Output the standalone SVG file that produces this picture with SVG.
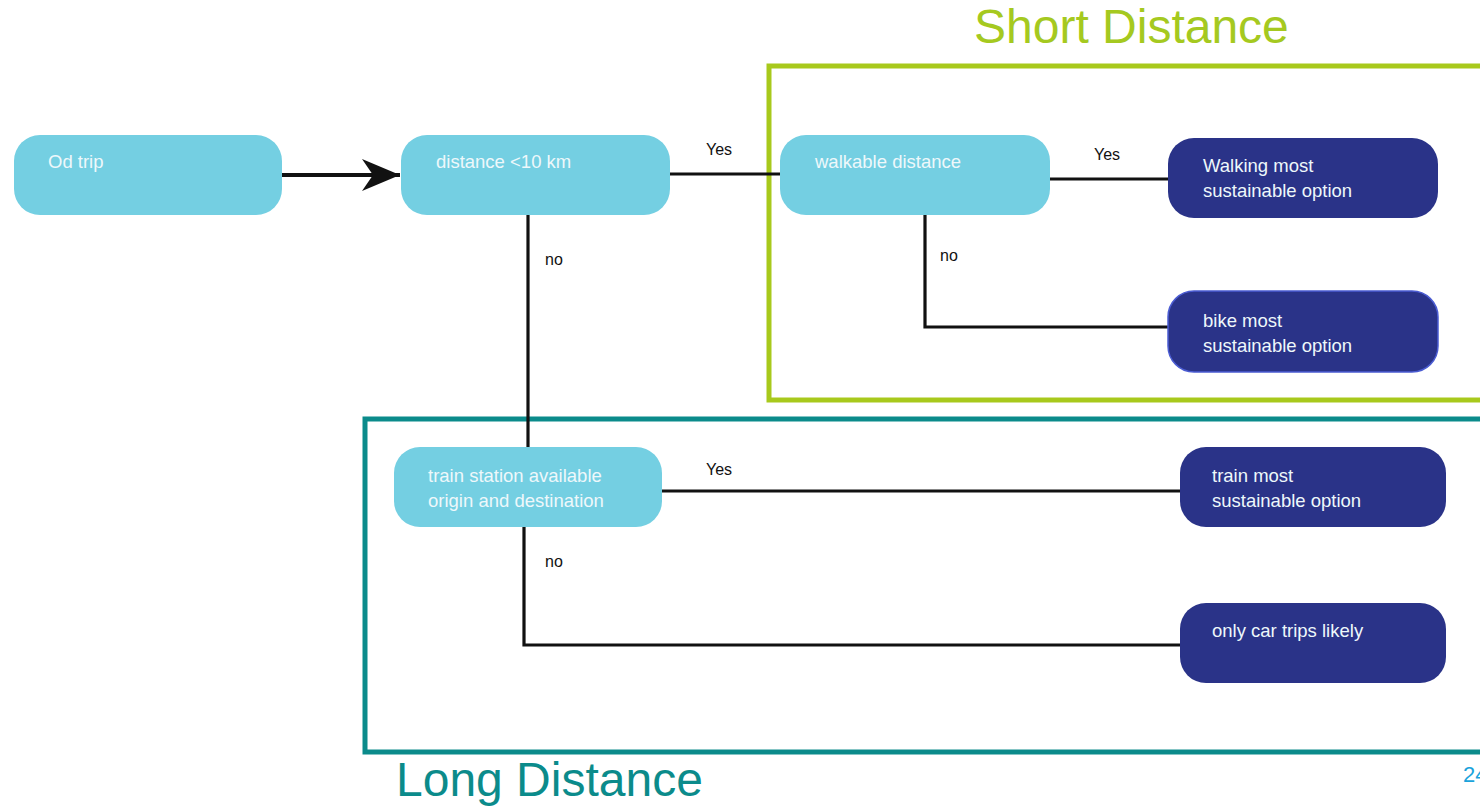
<svg xmlns="http://www.w3.org/2000/svg" width="1480" height="806" viewBox="0 0 1480 806">
<style>
.light{fill:#74CFE2;}
.dark{fill:#2A3388;}
.nt{font-family:"Liberation Sans",Arial,sans-serif;font-size:18.5px;fill:#EEF8FB;}
.lbl{font-family:"Liberation Sans",Arial,sans-serif;font-size:16px;fill:#111;}
.c{fill:none;stroke:#111;stroke-width:3.2;}
.region{font-family:"Liberation Sans",Arial,sans-serif;font-size:48px;}
</style>
<defs>
<marker id="arr" markerUnits="userSpaceOnUse" markerWidth="42" markerHeight="40" refX="38" refY="16" orient="auto">
<path d="M0,0 L38,16 L0,32 L11,16 Z" fill="#111"/>
</marker>
</defs>
<rect width="1480" height="806" fill="#fff"/>

<g id="region-short">
<rect x="769" y="66" width="720" height="334" fill="none" stroke="#A8C91C" stroke-width="5"/>
<text class="region" x="974" y="43" fill="#A5C920">Short Distance</text>
</g>
<g id="region-long">
<rect x="365" y="419" width="1130" height="333" fill="none" stroke="#0B8B8B" stroke-width="5"/>
<text class="region" x="396" y="796" fill="#0B8B8B">Long Distance</text>
</g>

<g id="connectors">
<line x1="282" y1="175" x2="400" y2="175" stroke="#111" stroke-width="4" marker-end="url(#arr)"/>
<line class="c" x1="670" y1="174" x2="782" y2="174"/>
<line class="c" x1="1050" y1="179" x2="1170" y2="179"/>
<polyline class="c" points="925,212 925,327 1170,327"/>
<line class="c" x1="528" y1="215" x2="528" y2="449"/>
<line class="c" x1="662" y1="491" x2="1182" y2="491"/>
<polyline class="c" points="524,527 524,645 1182,645"/>
<text class="lbl" x="706" y="155">Yes</text>
<text class="lbl" x="1094" y="160">Yes</text>
<text class="lbl" x="940" y="261">no</text>
<text class="lbl" x="545" y="265">no</text>
<text class="lbl" x="706" y="475">Yes</text>
<text class="lbl" x="545" y="567">no</text>
</g>

<g id="od-trip">
<rect class="light" x="14" y="135" width="268" height="80" rx="26"/>
<text class="nt" x="48" y="168">Od trip</text>
</g>
<g id="distance">
<rect class="light" x="401" y="135" width="269" height="80" rx="26"/>
<text class="nt" x="436" y="168">distance &lt;10 km</text>
</g>
<g id="walkable">
<rect class="light" x="780" y="135" width="270" height="80" rx="26"/>
<text class="nt" x="815" y="168">walkable distance</text>
</g>
<g id="walking">
<rect class="dark" x="1168" y="138" width="270" height="80" rx="26"/>
<text class="nt" x="1203" y="172">Walking most</text>
<text class="nt" x="1203" y="197">sustainable option</text>
</g>
<g id="bike">
<rect class="dark" x="1168" y="291" width="270" height="81" rx="26" stroke="#4B5CD2" stroke-width="1.5"/>
<text class="nt" x="1203" y="327">bike most</text>
<text class="nt" x="1203" y="352">sustainable option</text>
</g>
<g id="train-station">
<rect class="light" x="394" y="447" width="268" height="80" rx="26"/>
<text class="nt" x="428" y="482">train station available</text>
<text class="nt" x="428" y="507">origin and destination</text>
</g>
<g id="train">
<rect class="dark" x="1180" y="447" width="266" height="80" rx="26"/>
<text class="nt" x="1212" y="482">train most</text>
<text class="nt" x="1212" y="507">sustainable option</text>
</g>
<g id="car">
<rect class="dark" x="1180" y="603" width="266" height="80" rx="26"/>
<text class="nt" x="1212" y="637">only car trips likely</text>
</g>
<text x="1463" y="782" font-family="Liberation Sans,Arial,sans-serif" font-size="22" fill="#1BA3DB">24</text>
</svg>
